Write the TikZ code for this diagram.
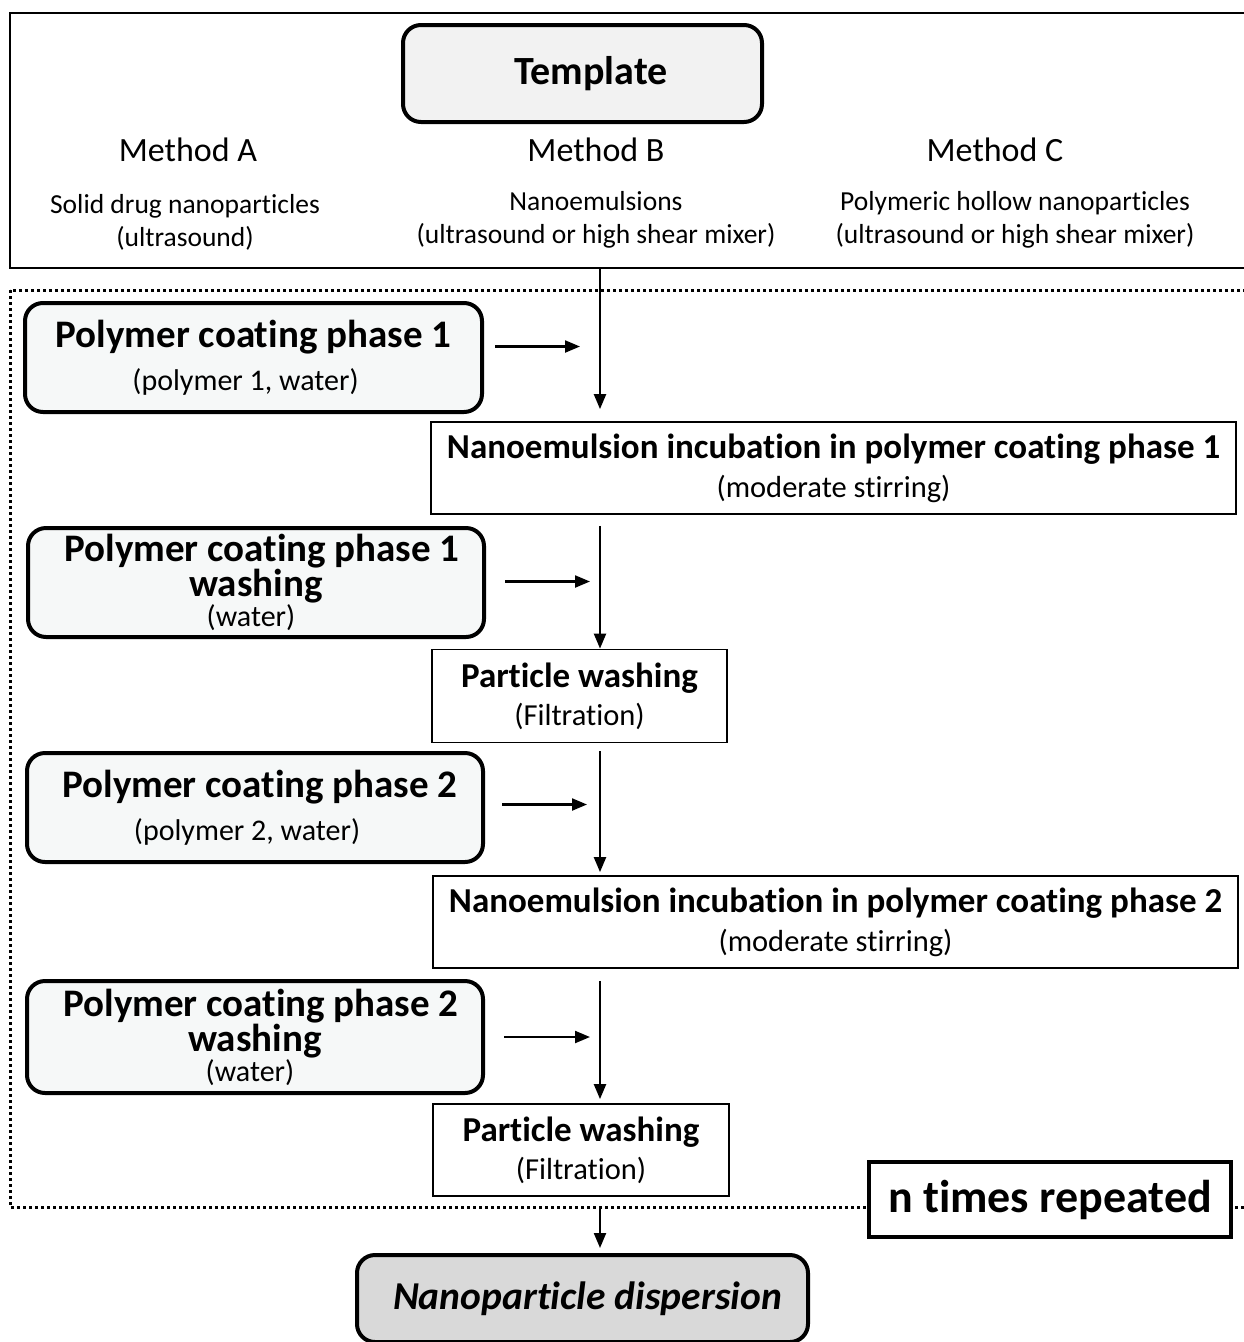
\documentclass[tikz,border=0pt]{standalone}
\usepackage{fontspec}
\setmainfont[Ligatures=NoCommon]{Carlito}
\usetikzlibrary{arrows.meta,calc}
\newcommand\fsz[2]{\fontsize{#1}{#2}\selectfont}
\definecolor{lightfill}{HTML}{F6F8F8}
\definecolor{tmplfill}{HTML}{F2F2F2}
\definecolor{finalfill}{HTML}{D9D9D9}
\begin{document}
\begin{tikzpicture}[x=1pt,y=-1pt,
  roundbox/.style={draw, line width=4pt, rounded corners=18pt, fill=lightfill, inner sep=0pt, align=center},
  plainbox/.style={draw, line width=1.8pt, fill=white, inner sep=0pt, align=center},
  arr/.style={-{Triangle[length=15pt,width=12pt]}, line width=2.2pt},
  txt/.style={inner sep=0pt, align=center}
]
\useasboundingbox (0,0) rectangle (1244,1342);
\clip (0,0) rectangle (1244,1342);
\fill[white] (0,0) rectangle (1244,1342);

% top frame
\node (frame) [draw, line width=1.8pt, minimum width=1250pt, minimum height=255pt, inner sep=0pt] at (635,140.5) {};
\node (tmpl) [roundbox, fill=tmplfill, minimum width=359pt, minimum height=97pt, font=\bfseries\fsz{40}{42}] at (582.5,73.5) {\hspace*{17pt}Template};

\node (mA) [txt, font=\fsz{34}{36}] at (188,150) {Method A};
\node (mB) [txt, font=\fsz{34}{36}] at (596,150) {Method B};
\node (mC) [txt, font=\fsz{34}{36}] at (995,150) {Method C};
\node (sA) [txt, font=\fsz{27.5}{33}] at (185,222) {Solid drug nanoparticles\\(ultrasound)};
\node (sB) [txt, font=\fsz{27.5}{33}] at (596,220) {Nanoemulsions\\(ultrasound or high shear mixer)};
\node (sC) [txt, font=\fsz{27.5}{33}] at (1015,220) {Polymeric hollow nanoparticles\\(ultrasound or high shear mixer)};

% dotted repetition frame
\draw[line width=3pt, dash pattern=on 3pt off 3pt] (10,290) rectangle (1262,1207);

\coordinate (axis) at (600,0);

% left boxes
\node (p1) [roundbox, minimum width=457pt, minimum height=109pt, font=\fsz{30}{43}] at (253.5,357.5)
  {{\bfseries\fsz{39}{40}Polymer coating phase 1}\\\hspace*{-16pt}(polymer 1, water)};
\node (p2) [roundbox, minimum width=456pt, minimum height=109pt, font=\fsz{30}{35}] at (256,582.5)
  {{\bfseries\fsz{39}{40}\hspace*{12pt}Polymer coating phase 1}\\{\bfseries\fsz{39}{40}washing}\\[-5pt]\hspace*{-10pt}(water)};
\node (p3) [roundbox, minimum width=456pt, minimum height=109pt, font=\fsz{30}{43}] at (255,807.5)
  {{\bfseries\fsz{39}{40}\hspace*{10pt}Polymer coating phase 2}\\\hspace*{-16pt}(polymer 2, water)};
\node (p4) [roundbox, minimum width=456pt, minimum height=112pt, font=\fsz{30}{35}] at (255,1037)
  {{\bfseries\fsz{39}{40}\hspace*{12pt}Polymer coating phase 2}\\{\bfseries\fsz{39}{40}washing}\\[-5pt]\hspace*{-10pt}(water)};

% right boxes
\node (inc1) [plainbox, minimum width=805pt, minimum height=92pt, font=\fsz{30.5}{39}] at (833.5,468)
  {{\bfseries\fsz{35}{38}Nanoemulsion incubation in polymer coating phase 1}\\(moderate stirring)};
\node (w1) [plainbox, minimum width=295pt, minimum height=93pt, font=\fsz{30.5}{38}] at (579.5,696)
  {{\bfseries\fsz{35}{38}Particle washing}\\(Filtration)};
\node (inc2) [plainbox, minimum width=805pt, minimum height=92pt, font=\fsz{30.5}{39}] at (835.5,922)
  {{\bfseries\fsz{35}{38}Nanoemulsion incubation in polymer coating phase 2}\\(moderate stirring)};
\node (w2) [plainbox, minimum width=296pt, minimum height=92pt, font=\fsz{30.5}{38}] at (581,1150)
  {{\bfseries\fsz{35}{38}Particle washing}\\(Filtration)};

\node (rep) [draw, line width=4pt, fill=white, minimum width=362pt, minimum height=75pt, inner sep=0pt, font=\bfseries\fsz{46}{48}] at (1050,1199.5) {n times repeated};

\node (final) [roundbox, fill=finalfill, minimum width=451pt, minimum height=87pt, font=\bfseries\itshape\fsz{39.5}{42}] at (582.5,1298.5) {\hspace*{10pt}Nanoparticle dispersion};

% vertical arrows
\draw[arr] (frame.south -| axis) -- ($(inc1.north -| axis)+(0,-12)$);
\draw[arr] ($(inc1.south -| axis)+(0,11)$) -- (w1.north -| axis);
\draw[arr] ($(w1.south -| axis)+(0,8)$) -- ($(inc2.north -| axis)+(0,-3)$);
\draw[arr] ($(inc2.south -| axis)+(0,12)$) -- ($(w2.north -| axis)+(0,-4)$);
\draw[arr] ($(w2.south -| axis)+(0,11)$) -- ($(final.north -| axis)+(0,-5)$);

% horizontal arrows
\draw[arr] ($(p1.east)+(11,-11)$) -- ($(p1.east -| axis)+(-20,-11)$);
\draw[arr] ($(p2.east)+(19,-1)$) -- ($(p2.east -| axis)+(-10,-1)$);
\draw[arr] ($(p3.east)+(17,-3)$) -- ($(p3.east -| axis)+(-13,-3)$);
\draw[arr] ($(p4.east)+(19,0)$) -- ($(p4.east -| axis)+(-10,0)$);
\end{tikzpicture}
\end{document}
